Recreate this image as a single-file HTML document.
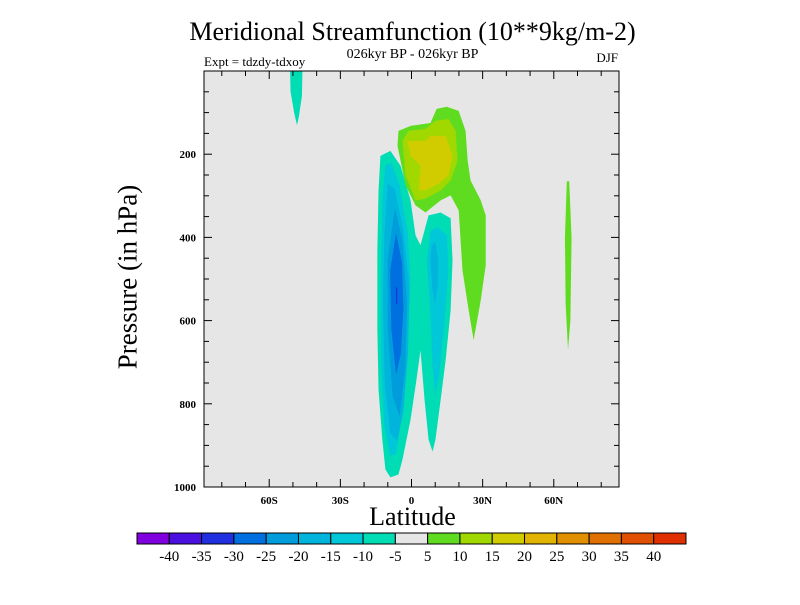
<!DOCTYPE html>
<html><head><meta charset="utf-8"><style>
body{margin:0;background:#fff}
svg text{font-family:"Liberation Serif",serif}
</style></head><body>
<svg id="c" width="800" height="600" xmlns="http://www.w3.org/2000/svg"></svg>
<script>
const levelColors=["#8000e0","#4a10e0","#2030e0","#0070e0","#009cdc","#00b4dc","#00c8d8","#00dcb4","#e6e6e6","#60dc20","#a0d800","#d0cc00","#e0b400","#e09000","#e07000","#e05000","#e03000"];
const levelLabels=["-40","-35","-30","-25","-20","-15","-10","-5","5","10","15","20","25","30","35","40"];
const xTicks=[-60,-30,0,30,60];
const xTickLabels=["60S","30S","0","30N","60N"];
const yTicks=[200,400,600,800,1000];
const regionLevels=[7,7,9,9,6,6,5,5,4,3,2,10,11];
const regionShapes=[
[[-13.1,204],[-8.9,192],[-4.6,228],[-0.4,311],[1.7,395],[3.8,419],[7.2,347],[12.3,340],[16.5,354],[17.3,455],[16.5,575],[14.4,695],[12.3,790],[10.1,886],[8.9,915],[7.2,886],[5.5,790],[3.8,671],[2.1,742],[-0.4,838],[-3.8,934],[-5.5,970],[-8.9,977],[-11,958],[-12.3,886],[-13.9,766],[-14.4,623],[-14.4,431],[-13.9,287]],
[[-51.2,0],[-46,0],[-46.2,60],[-47.5,110],[-48.3,130],[-49.5,100],[-51,50]],
[[-5.5,144],[-0.4,132],[8,125],[10.6,91],[14.8,86],[19.9,96],[22.8,144],[23.7,216],[24.9,263],[29.2,311],[31.3,347],[31.3,467],[29.2,551],[26.2,647],[24.1,575],[21.5,479],[19.9,335],[16.5,299],[12.3,311],[5.9,340],[1.7,323],[-2.5,275],[-4.6,216],[-5.9,180]],
[[65.5,265],[66.5,265],[67.5,400],[67,600],[66,670],[65,560],[64.7,400]],
[[-11,225],[-8.5,222],[-5,275],[-1.5,390],[-0.5,500],[-1.5,650],[-3.5,800],[-6.5,920],[-9,925],[-11.5,850],[-12.8,700],[-12.8,450],[-12.2,300]],
[[8,385],[11,375],[15,395],[15.5,480],[14,600],[11.5,740],[10,780],[8.8,700],[7.8,560],[6.5,460]],
[[-10,270],[-7,285],[-3.5,380],[-0.8,520],[-1.5,680],[-3.5,820],[-6,890],[-9,870],[-11.3,750],[-12,550],[-11.5,400]],
[[8.5,420],[10,410],[11.3,455],[11,520],[9.8,560],[8.8,520],[8,455]],
[[-7,330],[-4,400],[-1.8,560],[-2.7,720],[-5,830],[-8,780],[-10,620],[-10,450]],
[[-6.5,390],[-4,460],[-3.4,570],[-4.5,680],[-6.5,730],[-8.5,620],[-9,480]],
[[-6.5,520],[-6,520],[-6,560],[-6.5,560]],
[[-3.8,168],[-1.3,144],[5.9,139],[10.1,120],[15.6,115],[18.6,144],[19.4,216],[16.5,263],[12.3,287],[5.9,307],[1.7,311],[-2.5,251]],
[[-1.7,168],[5.9,168],[8,156],[14.4,156],[17.3,204],[15.6,251],[11.4,271],[5.9,287],[3,287],[3.8,228],[-0.4,204]]
];
const NS="http://www.w3.org/2000/svg";
const svg=document.getElementById('c');
const L=204,R=619,T=71,B=487;
const latMin=-87.5,latMax=87.5,pMin=0,pMax=1000;
const sx=v=>L+(v-latMin)/(latMax-latMin)*(R-L);
const sy=v=>T+(v-pMin)/(pMax-pMin)*(B-T);
function el(tag,attrs,txt){const e=document.createElementNS(NS,tag);for(const k in attrs)e.setAttribute(k,attrs[k]);if(txt!==undefined)e.textContent=txt;svg.appendChild(e);return e;}
let e;
e=el('rect',{x:L,y:T,width:R-L,height:B-T,fill:'#e6e6e6'});


regionShapes.forEach((pts,i)=>{
  const p=el('polygon',{points:pts.map(q=>sx(q[0])+','+sy(q[1])).join(' '),fill:levelColors[regionLevels[i]]});
  
  
});
e=el('rect',{x:L,y:T,width:R-L,height:B-T,fill:'none',stroke:'#000','stroke-width':1});


for(let v=-80;v<=80;v+=10){
  const major=v%30===0, len=major?8:5, x=sx(v);
  el('line',{x1:x,y1:B,x2:x,y2:B-len,stroke:'#000'});
  el('line',{x1:x,y1:T,x2:x,y2:T+len,stroke:'#000'});
}
xTicks.forEach((v,i)=>{
  const t=el('text',{x:sx(v),y:B+17,'text-anchor':'middle','font-size':11,'font-weight':'bold'},xTickLabels[i]);
  
  
});
for(let v=50;v<1000;v+=50){
  const major=v%200===0, len=major?8:5, y=sy(v);
  el('line',{x1:L,y1:y,x2:L+len,y2:y,stroke:'#000'});
  el('line',{x1:R,y1:y,x2:R-len,y2:y,stroke:'#000'});
}
yTicks.forEach(v=>{
  const t=el('text',{x:196,y:sy(v)+4,'text-anchor':'end','font-size':11,'font-weight':'bold'},String(v));
  
  
});
const cbL=137,cbR=686,cbT=533,cbH=11,bw=(cbR-cbL)/levelColors.length;
levelColors.forEach((c,i)=>{
  const r=el('rect',{x:cbL+i*bw,y:cbT,width:bw,height:cbH,fill:c,stroke:'#000','stroke-width':1});
  
  
});
levelLabels.forEach((s,i)=>{
  const t=el('text',{x:cbL+(i+1)*bw,y:cbT+28,'text-anchor':'middle','font-size':15},s);
  
  
});
</script>
<div style="position:absolute;left:0;top:0;width:800px;height:600px;pointer-events:none;font-family:'Liberation Serif',serif">
<div style="position:absolute;left:0;width:825px;top:17px;text-align:center;font-size:26px;line-height:30px">Meridional Streamfunction (10**9kg/m-2)</div>
<div style="position:absolute;left:0;width:825px;top:47px;text-align:center;font-size:14px">026kyr BP - 026kyr BP</div>
<div style="position:absolute;left:204px;top:54px;font-size:13px;line-height:15px">Expt = tdzdy-tdxoy</div>
<div style="position:absolute;right:182px;top:50px;font-size:13px;line-height:15px">DJF</div>
<div style="position:absolute;left:0;width:825px;top:502px;text-align:center;font-size:26px;line-height:30px">Latitude</div>
<div style="position:absolute;left:128px;top:277px;width:0;height:0"><div style="position:absolute;transform:translate(-50%,-50%) rotate(-90deg);white-space:nowrap;font-size:27px">Pressure (in hPa)</div></div>
</div>
</body></html>
